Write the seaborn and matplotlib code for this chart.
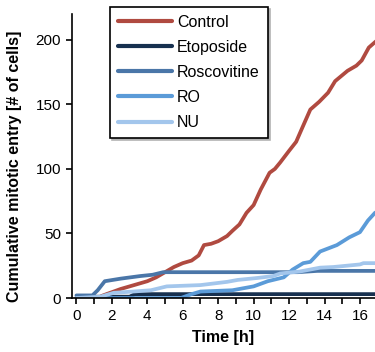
"""
plot.py

Cumulative mitotic entry over time for control and inhibitor-treated cells.
"""

import numpy as np
import pandas as pd
import matplotlib

matplotlib.use("Agg")
import matplotlib.pyplot as plt
import seaborn as sns
from matplotlib.ticker import MultipleLocator, FixedLocator

# Data
control_t = [0, 1.2, 1.5, 1.9, 2.5, 3.0, 3.5, 4.0, 4.5, 5.0, 5.5, 6.0, 6.5, 6.9,
             7.2, 7.6, 8.0, 8.5, 8.8, 9.2, 9.6, 10.0, 10.4, 10.9, 11.2, 11.5,
             12.0, 12.4, 12.75, 13.2, 13.7, 14.2, 14.6, 15.3, 15.8, 16.1, 16.5, 17.0]
control_v = [0, 0, 2, 4, 7, 9, 11, 13, 16, 20, 24, 27, 29, 33,
             41, 42, 44, 48, 52, 57, 66, 72, 84, 97, 100, 105,
             114, 121, 132, 146, 152, 159, 168, 176, 180, 184, 194, 200]

etoposide_t = [0, 1.0, 3.0, 3.3, 17.0]
etoposide_v = [0, 1, 1, 3, 3]

roscovitine_t = [0, 0.9, 1.2, 1.6, 2.5, 3.6, 4.3, 4.9, 12.5, 13.6, 17.0]
roscovitine_v = [2, 2, 6, 13, 15, 17, 18, 20, 20, 21, 21]

ro_t = [0, 5.9, 6.5, 7.0, 8.8, 10.0, 10.8, 11.7, 12.2, 12.8, 13.2, 13.75,
        14.7, 15.4, 16.0, 16.45, 16.85, 17.0]
ro_v = [0, 0, 3, 5, 6, 9, 13, 16, 22, 27, 28, 36,
        41, 47, 51, 60, 66, 67]

nu_t = [0, 1.35, 2.1, 3.2, 4.2, 5.1, 7.0, 8.5, 9.1, 10.2, 11.1, 11.5,
        12.6, 13.75, 14.5, 16.0, 16.2, 17.0]
nu_v = [0, 1, 4, 5, 6, 9, 10, 12.5, 14, 15.5, 17, 19,
        20.5, 23.5, 24, 26, 27, 27]

series_names = ["Control", "Etoposide", "Roscovitine", "RO", "NU"]
series_colors = ["#b04a40", "#17304f", "#4a76a8", "#5b9bd8", "#a3c6ec"]

# Figure settings
FIG_DPI = 100
LABEL_FONTSIZE = 11.5
TICK_FONTSIZE = 11
LEGEND_FONTSIZE = 11.5

sns.set_style("ticks")
plt.rcParams["font.family"] = ["Liberation Sans", "DejaVu Sans"]
plt.rcParams["text.color"] = "black"
plt.rcParams["axes.labelcolor"] = "black"
plt.rcParams["xtick.color"] = "black"
plt.rcParams["ytick.color"] = "black"


def main():
    frames = []
    for name, t, v in zip(
        series_names,
        [control_t, etoposide_t, roscovitine_t, ro_t, nu_t],
        [control_v, etoposide_v, roscovitine_v, ro_v, nu_v],
    ):
        frames.append(pd.DataFrame({"Time": t, "Cells": v, "Condition": name}))
    df = pd.concat(frames, ignore_index=True)

    fig = plt.figure(figsize=(3.75, 3.52), dpi=FIG_DPI)
    ax = fig.add_axes([72 / 375, 54 / 352, 303 / 375, 284 / 352])

    sns.lineplot(
        data=df,
        x="Time",
        y="Cells",
        hue="Condition",
        hue_order=series_names,
        palette=series_colors,
        estimator=None,
        linewidth=2.7,
        ax=ax,
    )

    ax.set_xlim(-0.25, 16.85)
    ax.set_ylim(0, 220)
    ax.xaxis.set_major_locator(FixedLocator(np.arange(0, 17, 2)))
    ax.xaxis.set_minor_locator(MultipleLocator(1))
    ax.set_yticks([0, 50, 100, 150, 200])

    sns.despine(ax=ax)
    for side in ["left", "bottom"]:
        ax.spines[side].set_linewidth(1.2)
        ax.spines[side].set_color("black")
    ax.tick_params(axis="both", which="both", direction="out", length=4,
                   width=1.2, color="black", labelcolor="black",
                   labelsize=TICK_FONTSIZE, pad=4)

    ax.set_xlabel("Time [h]", fontsize=LABEL_FONTSIZE, fontweight="bold",
                  labelpad=5, color="black")
    ax.set_ylabel("Cumulative mitotic entry [# of cells]", fontsize=LABEL_FONTSIZE,
                  fontweight="bold", color="black")
    ax.yaxis.set_label_coords(-0.165, 0.465)

    leg = ax.legend(
        loc="upper left",
        bbox_to_anchor=(0.125, 1.025),
        borderaxespad=0,
        fontsize=LEGEND_FONTSIZE,
        handlelength=3.4,
        handletextpad=0.3,
        labelspacing=0.63,
        borderpad=0.5,
        fancybox=False,
        shadow={"ox": 1.5, "oy": -1.5, "color": "0.7", "alpha": 1},
        frameon=True,
        title=None,
    )
    leg.get_frame().set_edgecolor("black")
    leg.get_frame().set_linewidth(1.2)
    leg.get_frame().set_alpha(1)
    for h in leg.get_lines():
        h.set_linewidth(3)
    for txt in leg.get_texts():
        txt.set_color("black")

    fig.savefig("out.png", dpi=FIG_DPI)
    plt.close(fig)


if __name__ == "__main__":
    main()
